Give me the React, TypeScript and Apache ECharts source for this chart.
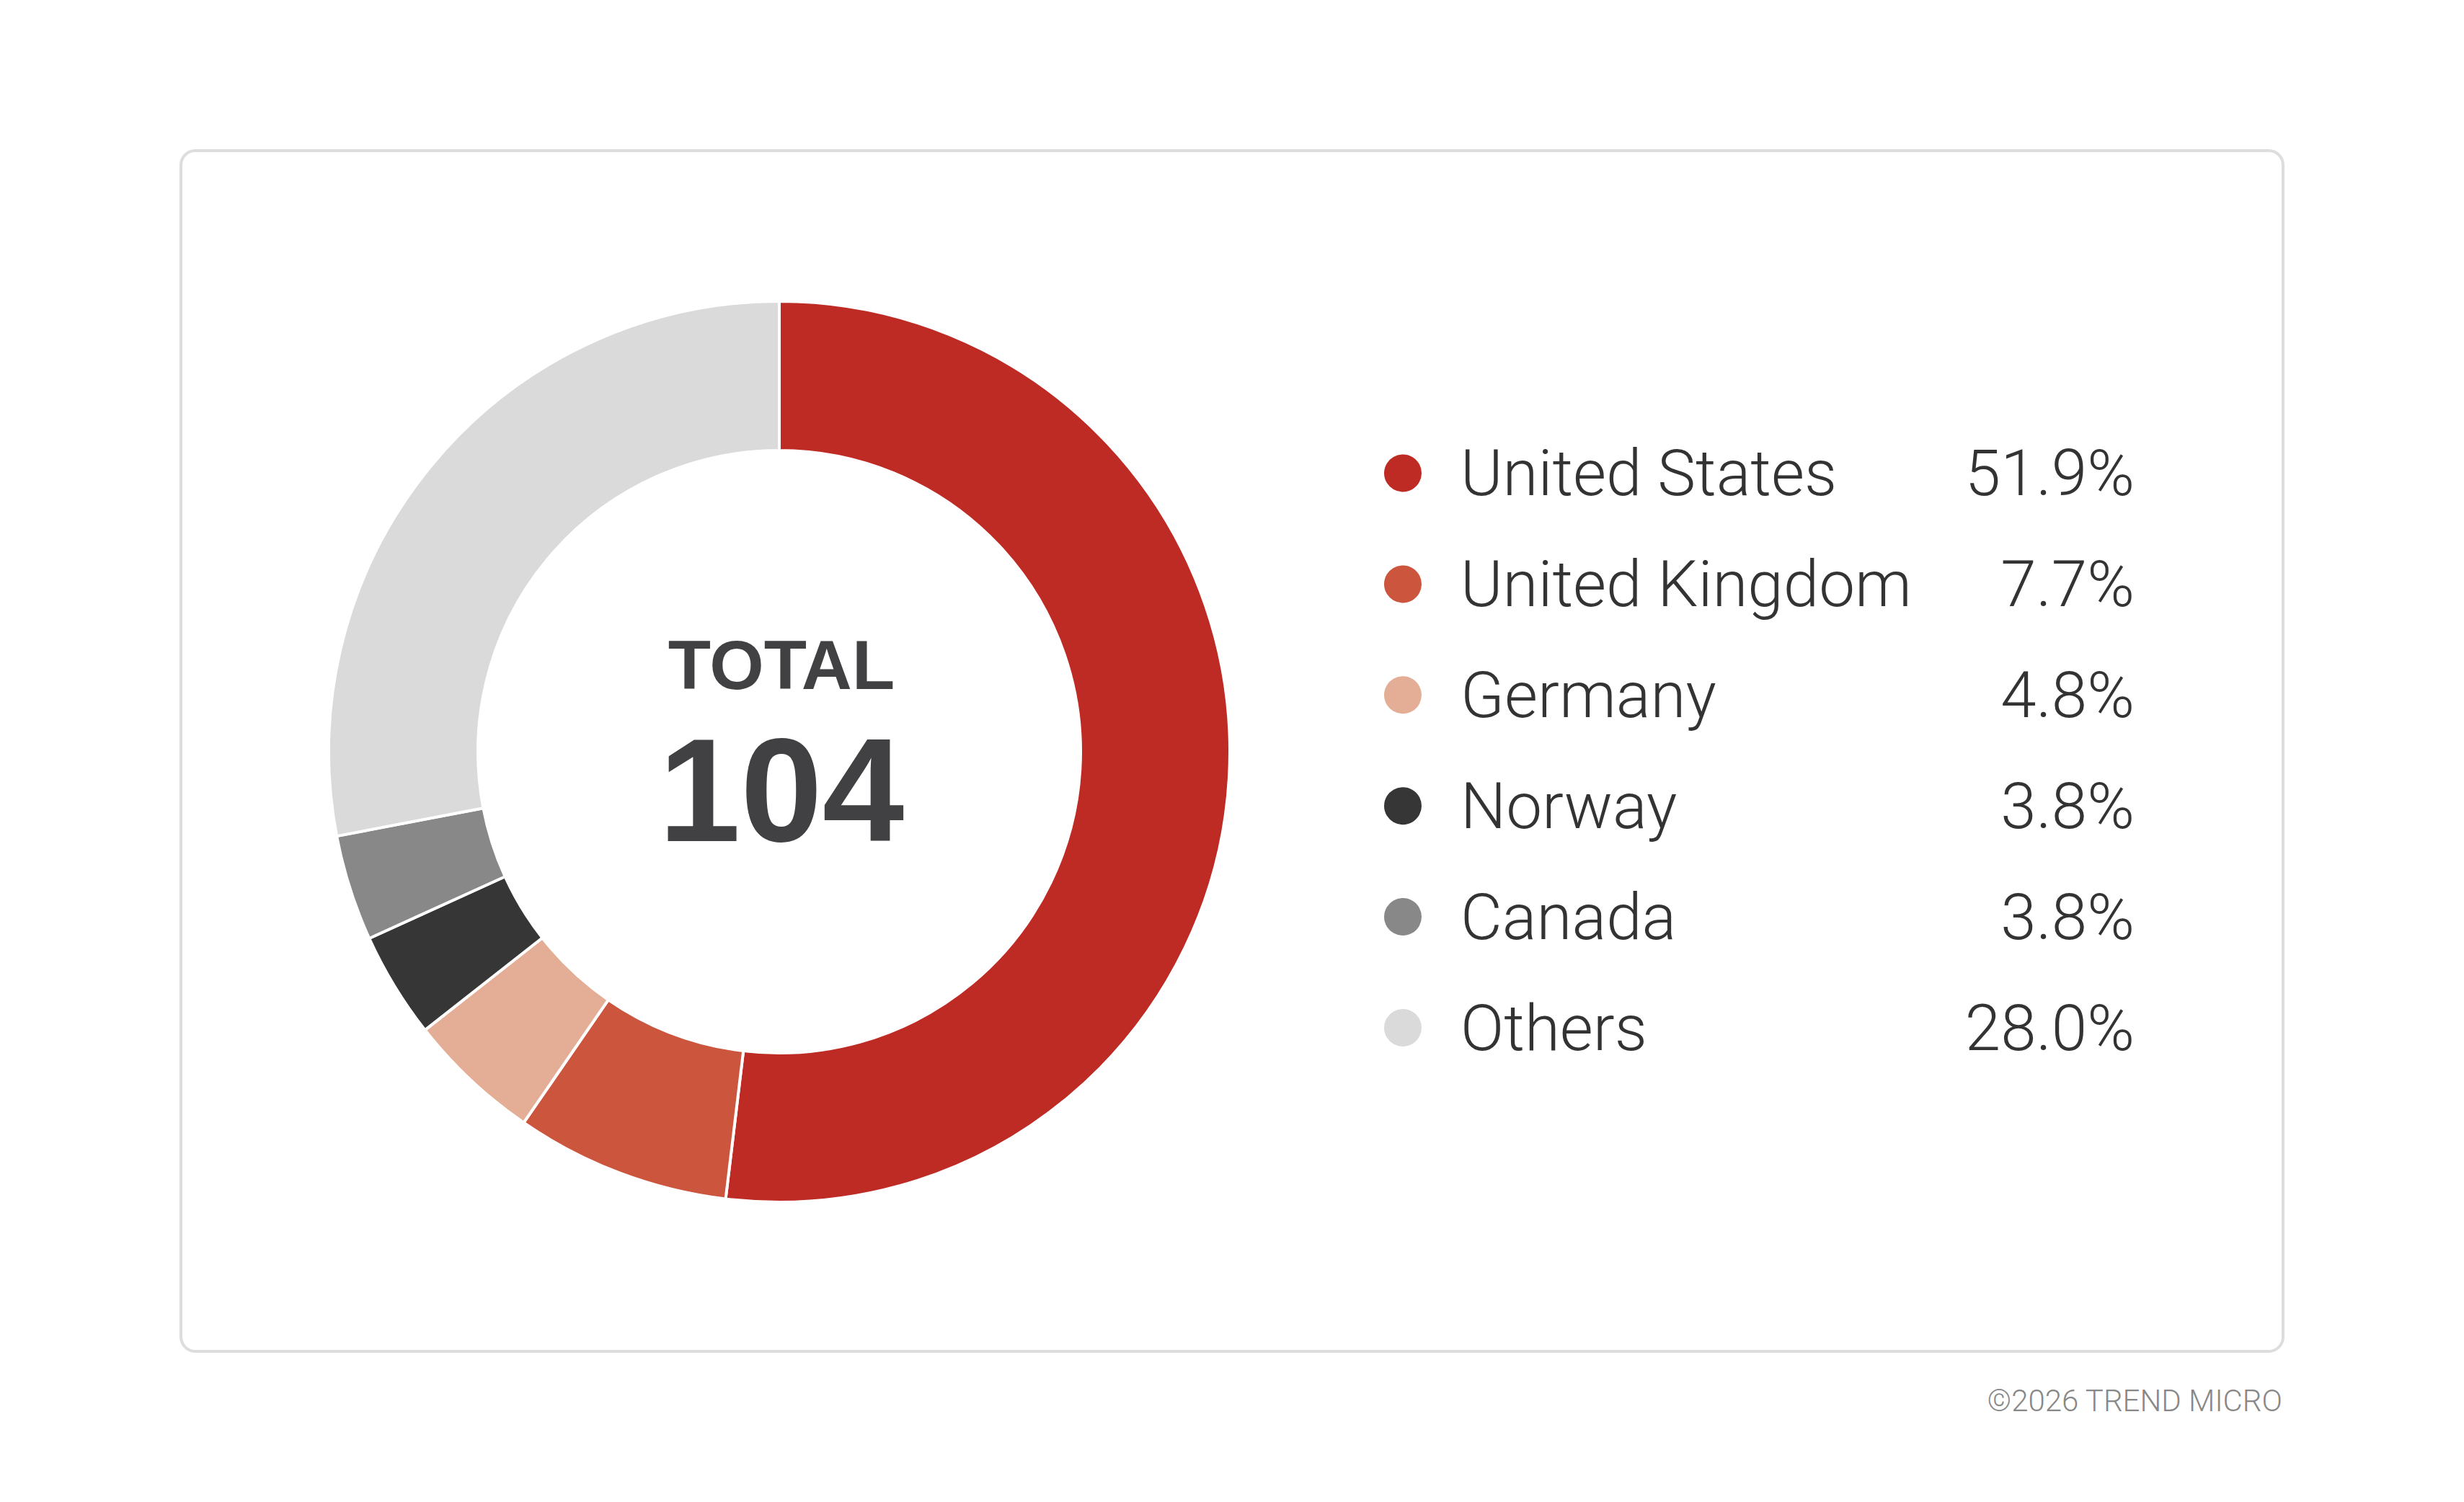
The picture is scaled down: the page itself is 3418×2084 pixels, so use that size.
import React, { useEffect, useRef } from "react";
import * as echarts from "echarts";

const countries = ["United States", "United Kingdom", "Germany", "Norway", "Canada", "Others"];
const shares = [51.9, 7.7, 4.8, 3.8, 3.8, 28.0];
const colors = ["#be2a24", "#cc553d", "#e4ae96", "#363636", "#888888", "#dadada"];
const totalCount = 104;
const totalLabel = "TOTAL";
const footnote = "\u00a92026 TREND MICRO";

const App = () => {
  const chartContainer = useRef<HTMLDivElement>(null);

  useEffect(() => {
    if (!chartContainer.current) return;
    const chart = echarts.init(chartContainer.current, null, { renderer: "svg" });

    const shareOf: Record<string, number> = {};
    countries.forEach((c, i) => (shareOf[c] = shares[i]));

    const option: echarts.EChartsOption = {
      animation: false,
      backgroundColor: "#ffffff",
      color: colors,
      graphic: [
        {
          type: "rect",
          z: -10,
          shape: { x: 251, y: 209, width: 2916, height: 1666, r: 20 },
          style: { fill: "#ffffff", stroke: "#dddddd", lineWidth: 4 },
        },
        {
          type: "text",
          x: 1084,
          y: 922,
          style: {
            text: totalLabel,
            fill: "#414143",
            font: "bold 97px 'Liberation Sans', Arial, sans-serif",
            textAlign: "center",
            textVerticalAlign: "middle",
          },
        },
        {
          type: "text",
          x: 1084,
          y: 1096,
          style: {
            text: String(totalCount),
            fill: "#414143",
            font: "bold 204px 'Liberation Sans', Arial, sans-serif",
            textAlign: "center",
            textVerticalAlign: "middle",
          },
        },
        {
          type: "text",
          x: 3166,
          y: 1943,
          style: {
            text: footnote,
            fill: "#888888",
            font: "300 42px Roboto, sans-serif",
            textAlign: "right",
            textVerticalAlign: "middle",
          },
        },
      ],
      legend: {
        orient: "vertical",
        left: 1913,
        top: 607,
        itemWidth: 54,
        itemHeight: 54,
        itemGap: 64.9,
        icon: "circle",
        selectedMode: false,
        data: countries,
        formatter: (name: string) => `{n|${name}}{p|${shareOf[name].toFixed(1)}%}`,
        textStyle: {
          color: "#333333",
          fontFamily: "Roboto",
          fontWeight: 300,
          fontSize: 89,
          rich: {
            n: {
              width: 675,
              fontSize: 89,
              fontFamily: "Roboto",
              fontWeight: 300,
              color: "#333333",
              padding: [0, 0, 0, 48],
            },
            p: {
              width: 260,
              align: "right",
              fontSize: 89,
              fontFamily: "Roboto",
              fontWeight: 300,
              color: "#333333",
            },
          },
        },
      },
      series: [
        {
          type: "pie",
          center: [1081, 1043],
          radius: [418, 625],
          startAngle: 90,
          clockwise: true,
          silent: true,
          label: { show: false },
          labelLine: { show: false },
          itemStyle: { borderColor: "#ffffff", borderWidth: 4 },
          data: countries.map((name, i) => ({ name, value: shares[i] })),
        },
      ],
    };

    chart.setOption(option);

    return () => {
      chart.dispose();
    };
  }, []);

  return (
    <div
      ref={chartContainer}
      style={{ position: "fixed", left: 0, top: 0, width: 3418, height: 2084 }}
    />
  );
};

export default App;
